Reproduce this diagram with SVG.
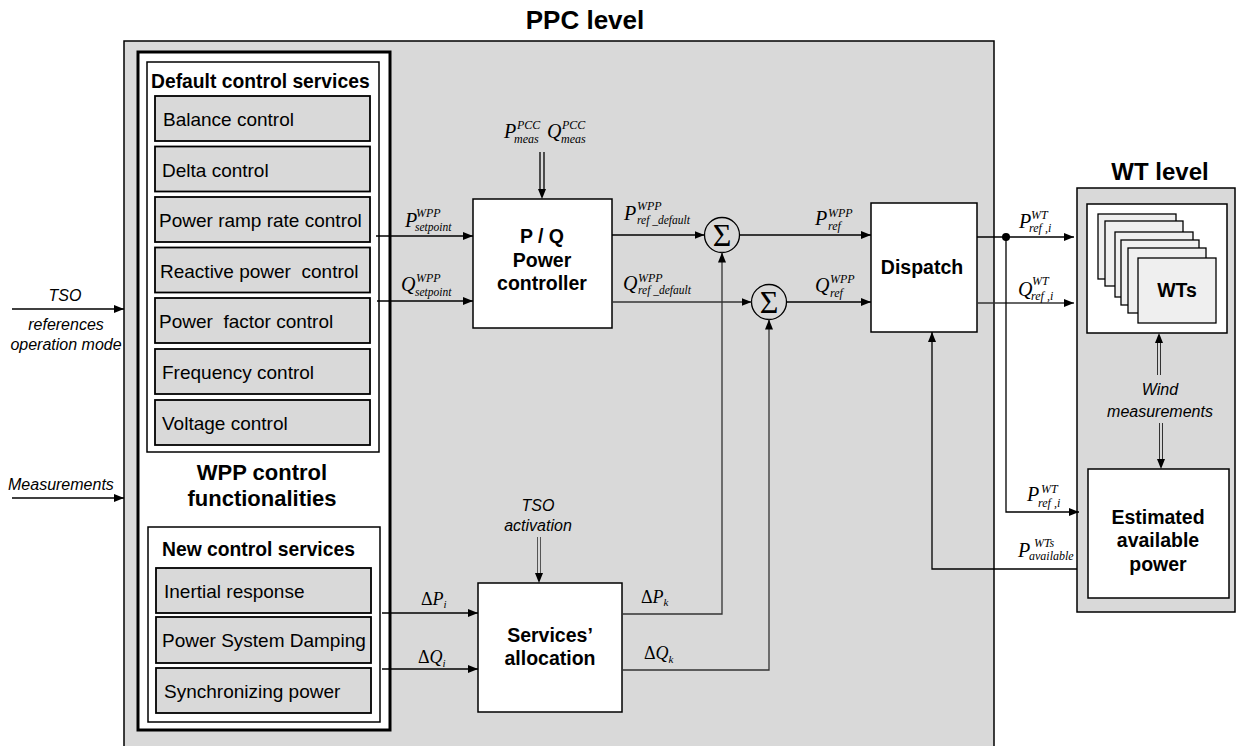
<svg xmlns="http://www.w3.org/2000/svg" width="1238" height="746" viewBox="0 0 1238 746">
<style>
.gray{fill:#d9d9d9;stroke:#000;stroke-width:1.5}
.white{fill:#fff;stroke:#000;stroke-width:1.5}
.item{fill:#d9d9d9;stroke:#000;stroke-width:1.8}
.card{fill:#efefef;stroke:#000;stroke-width:1.3}
.t{font-family:"Liberation Sans",Arial,sans-serif;font-size:19px;fill:#000}
.b{font-family:"Liberation Sans",Arial,sans-serif;font-weight:bold;fill:#000}
.i{font-family:"Liberation Sans",Arial,sans-serif;font-style:italic;font-size:16px;fill:#000}
.m{font-family:"Liberation Serif","Times New Roman",serif;font-style:italic;font-size:20px;fill:#000}
.s{font-family:"Liberation Serif","Times New Roman",serif;font-style:italic;font-size:12px;fill:#000}
.s11{font-family:"Liberation Serif","Times New Roman",serif;font-style:italic;font-size:11.5px;fill:#000}
.d{font-family:"Liberation Serif","Times New Roman",serif;font-size:18px;fill:#000}
.sig{font-family:"Liberation Serif","Times New Roman",serif;font-size:32px;fill:#000;text-anchor:middle}
.c{fill:none;stroke:#000;stroke-width:1.3}
.cg{fill:none;stroke:#333;stroke-width:1.3}
.mid{text-anchor:middle}
</style>
<defs>
<marker id="ah" markerWidth="10" markerHeight="8" refX="10" refY="4" orient="auto" markerUnits="userSpaceOnUse">
<path d="M0,0 L10,4 L0,8 z" fill="#000"/>
</marker>
</defs>

<rect width="1238" height="746" fill="#fff"/>

<g id="ppc-level">
<rect x="124" y="41" width="870" height="730" class="gray" stroke-width="2"/>
<text x="585" y="29" class="b mid" font-size="26">PPC level</text>
</g>

<g id="wpp-control">
<rect x="138" y="52" width="252" height="678" fill="#fff" stroke="#000" stroke-width="3"/>
<text x="262" y="480" class="b mid" font-size="22">WPP control</text>
<text x="262" y="506" class="b mid" font-size="22">functionalities</text>
</g>

<g id="default-services">
<rect x="147" y="62" width="232" height="390" class="white"/>
<text x="151" y="88" class="b" font-size="19.3">Default control services</text>
<rect x="155" y="96" width="215" height="45" class="item"/>
<text x="163" y="126" class="t">Balance control</text>
<rect x="155" y="146.5" width="215" height="45" class="item"/>
<text x="162" y="176.5" class="t">Delta control</text>
<rect x="155" y="197" width="215" height="45" class="item"/>
<text x="159" y="227" class="t">Power ramp rate control</text>
<rect x="155" y="247.5" width="215" height="45" class="item"/>
<text x="160" y="277.5" class="t" xml:space="preserve">Reactive power  control</text>
<rect x="155" y="298" width="215" height="45" class="item"/>
<text x="159" y="328" class="t" xml:space="preserve">Power  factor control</text>
<rect x="155" y="349" width="215" height="45" class="item"/>
<text x="162" y="379" class="t">Frequency control</text>
<rect x="155" y="400" width="215" height="45" class="item"/>
<text x="162" y="430" class="t">Voltage control</text>
</g>

<g id="new-services">
<rect x="148" y="527" width="232" height="195" class="white"/>
<text x="162" y="556" class="b" font-size="19.3">New control services</text>
<rect x="156" y="568" width="215" height="45" class="item"/>
<text x="164" y="598" class="t">Inertial response</text>
<rect x="156" y="617" width="215" height="46" class="item"/>
<text x="162" y="647" class="t">Power System Damping</text>
<rect x="156" y="668" width="215" height="45" class="item"/>
<text x="164" y="698" class="t">Synchronizing power</text>
</g>

<g id="inputs-left">
<text x="65" y="301" class="i mid">TSO</text>
<text x="66" y="330" class="i mid">references</text>
<text x="66" y="350" class="i mid">operation mode</text>
<text x="8" y="490" class="i">Measurements</text>
</g>

<g id="pq-controller">
<rect x="473" y="199" width="139" height="129" class="white"/>
<text x="542" y="243" class="b mid" font-size="19.5">P / Q</text>
<text x="542" y="267" class="b mid" font-size="19.5">Power</text>
<text x="542" y="290" class="b mid" font-size="19.5">controller</text>
</g>

<g id="pcc-meas">
<text x="504" y="138" class="m">P<tspan x="517" y="129" class="s">PCC</tspan><tspan x="514" y="143" class="s">meas</tspan></text>
<text x="547" y="138" class="m">Q<tspan x="562" y="129" class="s">PCC</tspan><tspan x="561" y="143" class="s">meas</tspan></text>
</g>

<g id="sum1">
<circle cx="722" cy="235" r="17.5" fill="none" stroke="#000" stroke-width="1.3"/>
<text x="722" y="246" class="sig">Σ</text>
</g>
<g id="sum2">
<circle cx="769" cy="302" r="17.5" fill="none" stroke="#000" stroke-width="1.3"/>
<text x="769" y="313" class="sig">Σ</text>
</g>

<g id="dispatch">
<rect x="871" y="203" width="106" height="129" class="white"/>
<text x="922" y="274" class="b mid" font-size="19.5">Dispatch</text>
</g>

<g id="services-allocation">
<rect x="478" y="583" width="144" height="129" class="white"/>
<text x="550" y="642" class="b mid" font-size="19.5">Services’</text>
<text x="550" y="665" class="b mid" font-size="19.5">allocation</text>
<text x="538" y="511" class="i mid">TSO</text>
<text x="538" y="531" class="i mid">activation</text>
</g>

<g id="wt-level">
<rect x="1077" y="188" width="158" height="424" class="gray" stroke-width="2"/>
<text x="1160" y="180" class="b mid" font-size="24">WT level</text>
<rect x="1087" y="204" width="140" height="129" class="white"/>
<text x="1160" y="395" class="i mid">Wind</text>
<text x="1160" y="417" class="i mid">measurements</text>
</g>

<g id="wts">
<rect x="1098" y="214" width="78" height="65" class="card"/>
<rect x="1105" y="221" width="78" height="65" class="card"/>
<rect x="1115" y="232" width="78" height="65" class="card"/>
<rect x="1121" y="240" width="78" height="65" class="card"/>
<rect x="1128" y="248" width="78" height="65" class="card"/>
<rect x="1138" y="258" width="78" height="65" class="card"/>
<text x="1177" y="297" class="b mid" font-size="19.5">WTs</text>
</g>

<g id="estimated-power">
<rect x="1088" y="469" width="141" height="129" class="white"/>
<text x="1158" y="524" class="b mid" font-size="19.5">Estimated</text>
<text x="1158" y="547" class="b mid" font-size="19.5">available</text>
<text x="1158" y="571" class="b mid" font-size="19.5">power</text>
</g>

<g id="connectors">
<line x1="12" y1="309" x2="124" y2="309" class="c" marker-end="url(#ah)"/>
<line x1="12" y1="498" x2="124" y2="498" class="c" marker-end="url(#ah)"/>
<line x1="376" y1="236" x2="473" y2="236" class="c" marker-end="url(#ah)"/>
<line x1="377" y1="301" x2="473" y2="301" class="c" marker-end="url(#ah)"/>
<line x1="540" y1="152" x2="540" y2="191" class="c" stroke-width="1"/>
<line x1="544" y1="152" x2="544" y2="191" class="c" stroke-width="1"/>
<line x1="542" y1="190" x2="542" y2="199" stroke="none" marker-end="url(#ah)"/>
<line x1="612" y1="235" x2="704.5" y2="235" class="c" marker-end="url(#ah)"/>
<line x1="612" y1="302" x2="751.5" y2="302" class="cg" marker-end="url(#ah)"/>
<line x1="740" y1="235" x2="871" y2="235" class="c" marker-end="url(#ah)"/>
<line x1="787" y1="302" x2="871" y2="302" class="c" marker-end="url(#ah)"/>
<polyline points="622,614 722,614 722,252.5" class="cg" marker-end="url(#ah)"/>
<polyline points="622,670 769,670 769,319.5" class="cg" marker-end="url(#ah)"/>
<line x1="382" y1="613" x2="478" y2="613" class="c" marker-end="url(#ah)"/>
<line x1="382" y1="669" x2="478" y2="669" class="c" marker-end="url(#ah)"/>
<line x1="537.5" y1="537" x2="537.5" y2="575" stroke="#555" stroke-width="1"/>
<line x1="540.5" y1="537" x2="540.5" y2="575" stroke="#555" stroke-width="1"/>
<line x1="539" y1="574" x2="539" y2="583" stroke="none" marker-end="url(#ah)"/>
<line x1="977" y1="237" x2="1074" y2="237" class="c" marker-end="url(#ah)"/>
<line x1="977" y1="303" x2="1074" y2="303" class="cg" marker-end="url(#ah)"/>
<circle cx="1006" cy="237" r="4" fill="#000"/>
<polyline points="1006,237 1006,512 1079,512" class="c" marker-end="url(#ah)"/>
<polyline points="1077,569 932,569 932,332" class="c" marker-end="url(#ah)"/>
<line x1="1157.5" y1="375" x2="1157.5" y2="341" stroke="#333" stroke-width="1"/>
<line x1="1160.5" y1="375" x2="1160.5" y2="341" stroke="#333" stroke-width="1"/>
<line x1="1159" y1="342" x2="1159" y2="333" stroke="none" marker-end="url(#ah)"/>
<line x1="1159.5" y1="423" x2="1159.5" y2="461" stroke="#333" stroke-width="1"/>
<line x1="1162.5" y1="423" x2="1162.5" y2="461" stroke="#333" stroke-width="1"/>
<line x1="1161" y1="460" x2="1161" y2="469" stroke="none" marker-end="url(#ah)"/>
</g>

<g id="labels">
<text x="405" y="227" class="m">P<tspan x="416" y="217" class="s">WPP</tspan><tspan x="415" y="231" class="s11">setpoint</tspan></text>
<text x="401" y="291" class="m">Q<tspan x="416" y="282" class="s">WPP</tspan><tspan x="415" y="296" class="s11">setpoint</tspan></text>

<text x="624" y="220" class="m">P<tspan x="637" y="210" class="s">WPP</tspan><tspan x="637" y="224" class="s11" xml:space="preserve">ref _default</tspan></text>
<text x="623" y="290" class="m">Q<tspan x="638" y="282" class="s">WPP</tspan><tspan x="638" y="294" class="s11" xml:space="preserve">ref _default</tspan></text>

<text x="815" y="225" class="m">P<tspan x="828" y="217" class="s">WPP</tspan><tspan x="828" y="230" class="s">ref</tspan></text>
<text x="815" y="292" class="m">Q<tspan x="830" y="283" class="s">WPP</tspan><tspan x="830" y="297" class="s">ref</tspan></text>

<text x="1019" y="228" class="m">P<tspan x="1031" y="219" class="s">WT</tspan><tspan x="1029" y="232" class="s" xml:space="preserve">ref ,i</tspan></text>
<text x="1018" y="296" class="m">Q<tspan x="1032" y="285" class="s">WT</tspan><tspan x="1031" y="300" class="s" xml:space="preserve">ref ,i</tspan></text>

<text x="1027" y="501" class="m">P<tspan x="1041" y="493" class="s">WT</tspan><tspan x="1038" y="507" class="s" xml:space="preserve">ref ,i</tspan></text>
<text x="1018" y="557" class="m">P<tspan x="1034" y="547" class="s">WTs</tspan><tspan x="1029" y="560" class="s">available</tspan></text>

<text x="421" y="605" class="d">Δ<tspan class="m" style="font-size:18px">P</tspan><tspan class="s" style="font-size:11px" dy="3">i</tspan></text>
<text x="418" y="663" class="d">Δ<tspan class="m" style="font-size:18px">Q</tspan><tspan class="s" style="font-size:11px" dy="4">i</tspan></text>
<text x="641" y="603" class="d">Δ<tspan class="m" style="font-size:18px">P</tspan><tspan class="s" style="font-size:11px" dy="3">k</tspan></text>
<text x="644" y="659" class="d">Δ<tspan class="m" style="font-size:18px">Q</tspan><tspan class="s" style="font-size:11px" dy="4">k</tspan></text>
</g>
</svg>
